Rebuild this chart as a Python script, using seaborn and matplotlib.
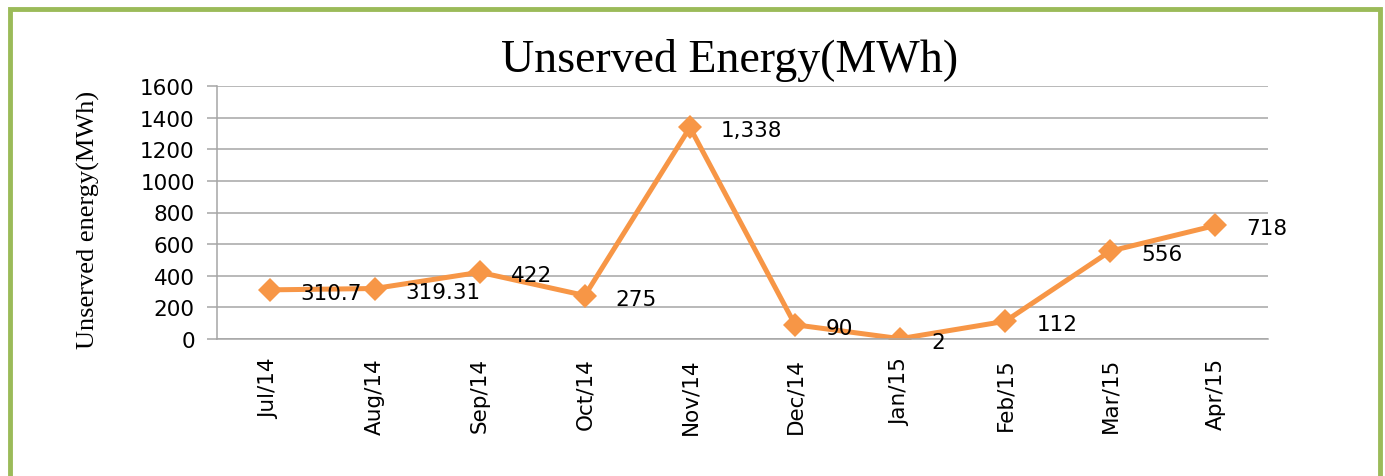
import numpy as np
import pandas as pd
import matplotlib
matplotlib.use("Agg")
import matplotlib.pyplot as plt
import seaborn as sns
from matplotlib.patches import Rectangle

# monthly unserved energy
months = ["Jul/14", "Aug/14", "Sep/14", "Oct/14", "Nov/14",
          "Dec/14", "Jan/15", "Feb/15", "Mar/15", "Apr/15"]
energy = [310.7, 319.31, 422, 275, 1338, 90, 2, 112, 556, 718]
labels = ["310.7", "319.31", "422", "275", "1,338", "90", "2", "112", "556", "718"]
yticks = [0, 200, 400, 600, 800, 1000, 1200, 1400, 1600]

df = pd.DataFrame({"month": months, "energy": energy})

sns.set_theme(style="white")
plt.rcParams['font.family'] = ['DejaVu Sans']
plt.rcParams['text.color'] = 'black'

lineColor = "#F79646"
gridColor = "#A6A6A6"

W, H = 1385, 477
fig = plt.figure(figsize=(W / 100, H / 100), dpi=100)
ax = fig.add_axes([217 / W, 1 - 340 / H, (1268 - 217) / W, (340 - 87) / H])

sns.lineplot(data=df, x="month", y="energy", ax=ax, sort=False, color=lineColor,
             linewidth=3.6, marker="D", markersize=12, markeredgewidth=0)

ax.set_xlim(-0.5, len(months) - 0.5)
ax.set_ylim(0, 1600)
ax.set_yticks(yticks)
ax.set_yticklabels([str(t) for t in yticks])
ax.set_xticks(range(len(months)))
ax.set_xticklabels(months, rotation=90)
ax.set_xticks(np.arange(-0.5, len(months)), minor=True)
ax.tick_params(axis="x", which="major", length=0, pad=13, labelsize=15.5, labelcolor="black")
ax.tick_params(axis="x", which="minor", length=7, width=1.1, color=gridColor, direction="out")
ax.tick_params(axis="y", length=7, width=1.1, color=gridColor, direction="out", pad=9,
               labelsize=15.5, labelcolor="black", left=True)
ax.set_xlabel("")
ax.set_ylabel("")
ax.grid(axis="y", color=gridColor, linewidth=1.1)
ax.set_axisbelow(True)
for side in ["top", "right"]:
    ax.spines[side].set_visible(False)
for side in ["left", "bottom"]:
    ax.spines[side].set_color(gridColor)
    ax.spines[side].set_linewidth(1.1)

# data labels to the right of each point
for i, (v, lab) in enumerate(zip(energy, labels)):
    ax.annotate(lab, xy=(i, v), xytext=(31, -3), textcoords="offset pixels",
                ha="left", va="center", fontsize=15.5, color="black")

fig.text(730 / W, 1 - 61 / H, "Unserved Energy(MWh)", ha="center", va="center",
         fontsize=33, family="Liberation Serif", color="black")
fig.text(88 / W, 1 - 220 / H, "Unserved energy(MWh)", ha="center", va="center",
         rotation=90, fontsize=19, family="Liberation Serif", color="black")

# green frame around the chart (bottom edge is cut off in the original)
fig.patches.append(Rectangle((10 / W, -0.05), (1380 - 10) / W, 1 - 10 / H + 0.05,
                             transform=fig.transFigure, fill=False,
                             edgecolor="#9BBB59", linewidth=3.5))

plt.savefig("out.png", dpi=100)
